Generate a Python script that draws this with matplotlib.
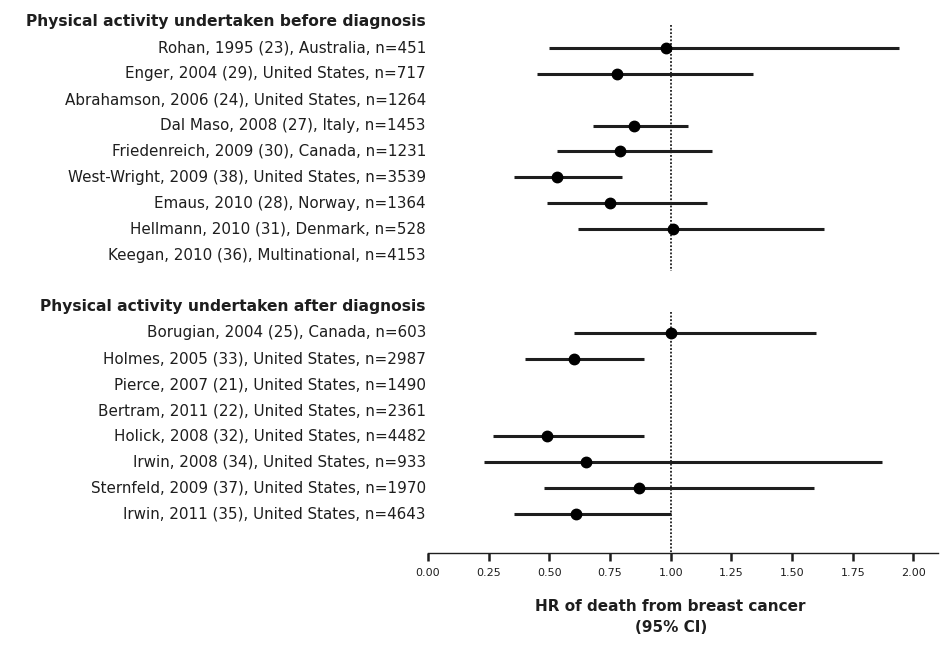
import matplotlib
matplotlib.use("Agg")
import matplotlib.pyplot as plt

plt.rcParams["font.family"] = ["DejaVu Sans"]

# Studies, hazard ratio and 95% CI (None where no estimate is shown)
before_labels = [
    "Rohan, 1995 (23), Australia, n=451",
    "Enger, 2004 (29), United States, n=717",
    "Abrahamson, 2006 (24), United States, n=1264",
    "Dal Maso, 2008 (27), Italy, n=1453",
    "Friedenreich, 2009 (30), Canada, n=1231",
    "West-Wright, 2009 (38), United States, n=3539",
    "Emaus, 2010 (28), Norway, n=1364",
    "Hellmann, 2010 (31), Denmark, n=528",
    "Keegan, 2010 (36), Multinational, n=4153",
]
before_hr = [0.98, 0.78, None, 0.85, 0.79, 0.53, 0.75, 1.01, None]
before_lo = [0.50, 0.45, None, 0.68, 0.53, 0.355, 0.49, 0.62, None]
before_hi = [1.94, 1.34, None, 1.07, 1.17, 0.80, 1.15, 1.63, None]

after_labels = [
    "Borugian, 2004 (25), Canada, n=603",
    "Holmes, 2005 (33), United States, n=2987",
    "Pierce, 2007 (21), United States, n=1490",
    "Bertram, 2011 (22), United States, n=2361",
    "Holick, 2008 (32), United States, n=4482",
    "Irwin, 2008 (34), United States, n=933",
    "Sternfeld, 2009 (37), United States, n=1970",
    "Irwin, 2011 (35), United States, n=4643",
]
after_hr = [1.00, 0.60, None, None, 0.49, 0.65, 0.87, 0.61]
after_lo = [0.60, 0.40, None, None, 0.27, 0.23, 0.48, 0.355]
after_hi = [1.60, 0.89, None, None, 0.89, 1.87, 1.59, 1.00]

headers = ["Physical activity undertaken before diagnosis",
           "Physical activity undertaken after diagnosis"]
xticks = [0.00, 0.25, 0.50, 0.75, 1.00, 1.25, 1.50, 1.75, 2.00]

ink = "#1e1e1e"

fig = plt.figure(figsize=(9.51, 6.45), dpi=100)
ax = fig.add_axes([0.450, 0.1426, 0.536, 0.842])

# row layout: header, 9 studies, blank row, header, 8 studies
rows = []
rows.append((0, headers[0], None, None, None, True))
for i, lab in enumerate(before_labels):
    rows.append((1 + i, lab, before_hr[i], before_lo[i], before_hi[i], False))
rows.append((11, headers[1], None, None, None, True))
for i, lab in enumerate(after_labels):
    rows.append((12 + i, lab, after_hr[i], after_lo[i], after_hi[i], False))

ytr = ax.get_yaxis_transform()
for y, lab, hr, lo, hi, is_header in rows:
    ax.text(-0.004, y, lab, transform=ytr, ha="right", va="center",
            fontsize=11.2 if is_header else 10.9, color=ink,
            fontweight="bold" if is_header else "normal")
    if hr is not None:
        ax.plot([lo, hi], [y, y], color=ink, lw=2.2, solid_capstyle="butt", zorder=2)
        ax.plot(hr, y, "o", color="black", ms=7.5, zorder=3)

# reference line at HR = 1
ax.vlines(1.0, 0.1, 9.6, colors=ink, linestyles=(0, (1, 1)), lw=1.3, zorder=1)
ax.vlines(1.0, 11.2, 20.5, colors=ink, linestyles=(0, (1, 1)), lw=1.3, zorder=1)

ax.set_xlim(0, 2.1)
ax.set_ylim(20.5, -0.463)
ax.set_yticks([])
for side in ["left", "top", "right"]:
    ax.spines[side].set_visible(False)
ax.spines["bottom"].set_color(ink)
ax.spines["bottom"].set_linewidth(1.0)
ax.set_xticks(xticks)
ax.set_xticklabels([f"{t:.2f}" for t in xticks])
ax.tick_params(axis="x", direction="out", length=6, width=1.8, color=ink,
               labelsize=8, labelcolor=ink, pad=5)

ax.text(1.0, -0.085, "HR of death from breast cancer\n(95% CI)",
        transform=ax.get_xaxis_transform(), ha="center", va="top",
        fontsize=11, fontweight="bold", color=ink, linespacing=1.45)

fig.savefig("out.png", dpi=100)
